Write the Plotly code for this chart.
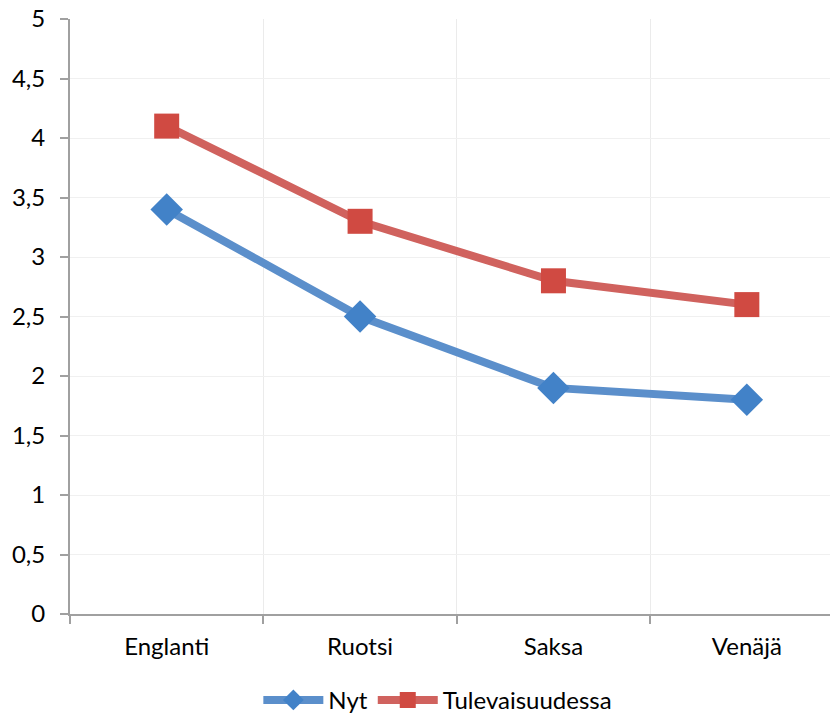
import plotly.graph_objects as go

categories = ["Englanti", "Ruotsi", "Saksa", "Venäjä"]
nyt = [3.4, 2.5, 1.9, 1.8]
tulevaisuudessa = [4.1, 3.3, 2.8, 2.6]

fig = go.Figure()
fig.add_trace(go.Scatter(
    x=categories, y=nyt, name="Nyt", mode="lines+markers",
    line=dict(color="#5B8FCB", width=8),
    marker=dict(symbol="diamond", size=25, color="#4282C8"),
))
fig.add_trace(go.Scatter(
    x=categories, y=tulevaisuudessa, name="Tulevaisuudessa", mode="lines+markers",
    line=dict(color="#D0625E", width=8),
    marker=dict(symbol="square", size=25, color="#D04A42"),
))

fig.update_layout(
    width=830, height=719,
    margin=dict(l=70, r=0, t=19, b=105),
    plot_bgcolor="white", paper_bgcolor="white",
    separators=", ",
    font=dict(family="Lato, Open Sans, sans-serif", size=24, color="#000000"),
    showlegend=True,
    legend=dict(orientation="h", x=0.484, xanchor="center",
                yref="container", y=0.026, yanchor="middle",
                font=dict(size=24), itemwidth=60),
    xaxis=dict(
        type="category", range=[-0.5, 3.43], tickson="boundaries",
        showgrid=True, gridcolor="#EBEBEB", gridwidth=1,
        showline=True, linecolor="#A0A0A0", linewidth=2,
        ticks="outside", ticklen=8, tickcolor="#A0A0A0", tickwidth=2,
        tickfont=dict(size=24), automargin=False, ticklabelstandoff=10,
    ),
    yaxis=dict(
        range=[0, 5], dtick=0.5, tick0=0,
        showgrid=True, gridcolor="#F0F0F0", gridwidth=1,
        showline=True, linecolor="#A0A0A0", linewidth=2,
        ticks="outside", ticklen=8, tickcolor="#A0A0A0", tickwidth=2,
        zeroline=False, tickformat=".1~f", tickfont=dict(size=24),
        automargin=False, ticklabelstandoff=10,
    ),
)

fig.write_html("out.html",
               config={"displayModeBar": False},
               post_script="document.body.style.margin='0';document.body.style.overflow='hidden';")
